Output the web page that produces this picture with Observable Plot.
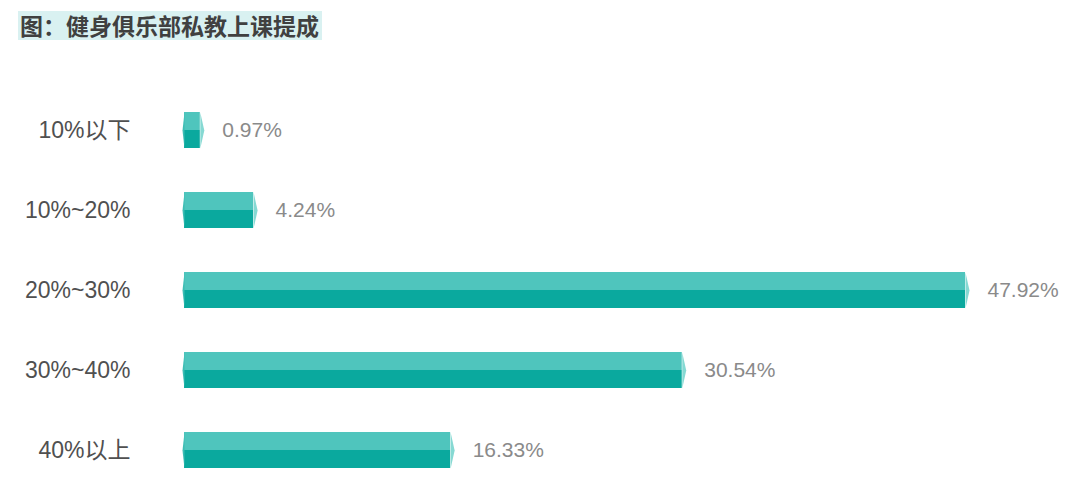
<!DOCTYPE html>
<html>
<head>
<meta charset="utf-8">
<script src="https://cdn.jsdelivr.net/npm/d3@7"></script>
<script src="https://cdn.jsdelivr.net/npm/@observablehq/plot@0.6"></script>
<style>
  html, body { margin: 0; padding: 0; background: #fff; }
  #wrap { width: 1080px; height: 501px; position: relative; overflow: hidden; }
  #title { height: 48px; position: relative; }
  #title span {
    position: absolute; left: 18px; top: 11px;
    background: #d9f1f1; padding: 0px 3px 0px 2px;
    font-family: "Noto Sans CJK SC", sans-serif; font-weight: bold;
    font-size: 23px; line-height: 29px; color: #404040;
  }
  svg { display: block; }
</style>
</head>
<body>
<div id="wrap">
  <div id="title"><span>图：健身俱乐部私教上课提成</span></div>
  <div id="chart"></div>
</div>
<script>
const categories = ["10%以下", "10%~20%", "20%~30%", "30%~40%", "40%以上"];
const values = [0.97, 4.24, 47.92, 30.54, 16.33];
const valueLabels = ["0.97%", "4.24%", "47.92%", "30.54%", "16.33%"];

const data = categories.map((c, i) => ({cat: c, v: values[i], label: valueLabels[i]}));

const half = 18;
const rightCap = {draw(ctx) { ctx.moveTo(0, -half); ctx.lineTo(4, 0); ctx.lineTo(0, half); ctx.closePath(); }};
const leftCap = {draw(ctx) { ctx.moveTo(0, -half); ctx.lineTo(-2, 0); ctx.lineTo(0, half); ctx.closePath(); }};

const chart = Plot.plot({
  width: 1080,
  height: 453,
  marginLeft: 184,
  marginRight: 115,
  marginTop: 40,
  marginBottom: 10,
  style: {fontFamily: "'Liberation Sans', 'Noto Sans CJK SC', sans-serif", background: "transparent"},
  x: {domain: [0, 47.92], axis: null},
  y: {domain: categories, paddingInner: 0.55, paddingOuter: 0.275, label: null},
  marks: [
    Plot.barX(data, {y: "cat", x: "v", fill: "#0aa99e", insetTop: half}),
    Plot.barX(data, {y: "cat", x: "v", fill: "#4fc5bd", insetBottom: half}),
    Plot.dot(data, {y: "cat", x: "v", symbol: rightCap, fill: "#86d9d3", stroke: "none"}),
    Plot.dot(data, {y: "cat", x: () => 0, symbol: leftCap, fill: "#3dbdb4", stroke: "none"}),
    Plot.text(data, {y: "cat", x: "v", text: "label", dx: 22, textAnchor: "start", fill: "#8a8a8a", fontSize: 21}),
    Plot.axisY({tickSize: 0, tickPadding: 54, fontSize: 23, fill: "#505050", label: null})
  ]
});
document.getElementById("chart").appendChild(chart);
</script>
</body>
</html>
